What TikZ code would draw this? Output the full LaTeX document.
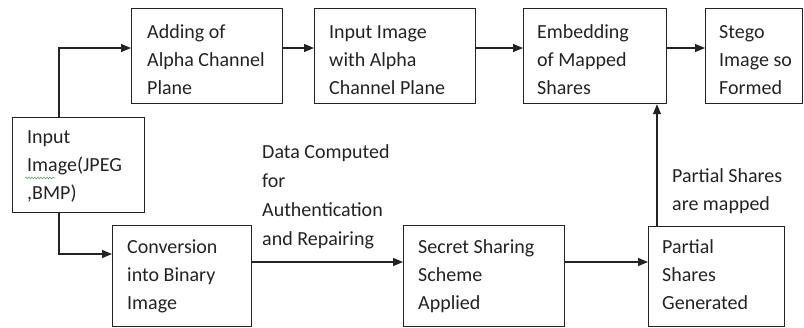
\documentclass[tikz,border=0pt]{standalone}
\usepackage{fontspec}
\setmainfont{Carlito}
\usetikzlibrary{arrows.meta,decorations.pathmorphing}
\definecolor{ink}{RGB}{35,35,35}
\definecolor{wavy}{RGB}{110,160,110}
\tikzset{
  box/.style={draw=ink, line width=1.2pt, rectangle, inner sep=0pt, anchor=north west},
  txt/.style={anchor=base west, inner sep=0pt, align=left, text=ink,
              font=\fontsize{20}{28}\selectfont},
  lbl/.style={anchor=base west, inner sep=0pt, align=left, text=ink,
              font=\fontsize{20}{29}\selectfont},
  arr/.style={draw=ink, line width=1.2pt, -{Triangle[length=10pt,width=8pt]}}
}
\begin{document}
\begin{tikzpicture}[x=1pt,y=-1pt]
\useasboundingbox (0,0) rectangle (804,327);
% boxes
\node[box, minimum width=151pt, minimum height=95pt] (A) at (131,8) {};
\node[box, minimum width=161pt, minimum height=95pt] (B) at (314,8) {};
\node[box, minimum width=143pt, minimum height=95pt] (C) at (523,8) {};
\node[box, minimum width=97pt, minimum height=95pt] (D) at (705,8) {};
\node[box, minimum width=132pt, minimum height=95pt] (IN) at (12,117) {};
\node[box, minimum width=139pt, minimum height=101pt] (CV) at (112,225) {};
\node[box, minimum width=161pt, minimum height=101pt] (SS) at (403,225) {};
\node[box, minimum width=136pt, minimum height=100pt] (PS) at (648,226) {};
% box texts (anchored at the baseline of the last line)
\node[txt] (tA) at (147,94) {Adding of\\Alpha Channel\\Plane};
\node[txt] (tB) at (329,94) {Input Image\\with Alpha\\Channel Plane};
\node[txt] (tC) at (537,94) {Embedding\\of Mapped\\Shares};
\node[txt] (tD) at (719,94) {Stego\\Image so\\Formed};
\node[txt] (tIN) at (27,199) {Input\\Image(JPEG\\,BMP)};
\node[txt] (tCV) at (127,309) {Conversion\\into Binary\\Image};
\node[txt] (tSS) at (418,309) {Secret Sharing\\Scheme\\Applied};
\node[txt] (tPS) at (662,309) {Partial\\Shares\\Generated};
% labels
\node[lbl] (lData) at (262,245) {Data Computed\\for\\Authentication\\and Repairing};
\node[txt] (lMap) at (672,210) {Partial Shares\\are mapped};
% spell-check underline
\coordinate (w1) at (25,178);
\coordinate (w2) at (55,178);
\draw[wavy, line width=0.6pt, decorate, decoration={snake, amplitude=0.9pt, segment length=3pt}] (w1) -- (w2);
% connectors
\draw[arr] (IN.north -| 59,0) |- (A.west |- 0,48);
\draw[arr] (A.east |- 0,48) -- (B.west |- 0,48);
\draw[arr] (B.east |- 0,48) -- (C.west |- 0,48);
\draw[arr] (C.east |- 0,48) -- (D.west |- 0,48);
\draw[arr] (IN.south -| 59,0) |- (CV.west |- 0,254);
\draw[arr] (CV.east |- 0,262) -- (SS.west |- 0,262);
\draw[arr] (SS.east |- 0,262) -- (PS.west |- 0,262);
\draw[arr] (PS.north -| 657,0) -- (C.south -| 657,0);
\end{tikzpicture}
\end{document}
